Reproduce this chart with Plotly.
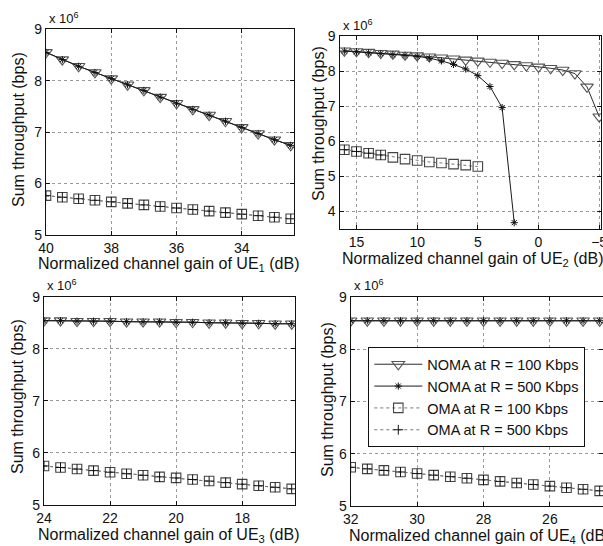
import plotly.graph_objects as go

# ---------------- data (throughput in units of 10^6 bps) ----------------
ue1_gain = [40, 39.5, 39, 38.5, 38, 37.5, 37, 36.5, 36, 35.5, 35, 34.5, 34, 33.5, 33, 32.5]
ue1_noma100 = [8.55, 8.41, 8.28, 8.16, 8.04, 7.92, 7.81, 7.68, 7.56, 7.44, 7.33, 7.21, 7.09, 6.97, 6.85, 6.74]
ue1_noma500 = [8.55, 8.41, 8.28, 8.16, 8.04, 7.92, 7.81, 7.68, 7.56, 7.44, 7.33, 7.21, 7.09, 6.97, 6.85, 6.74]
ue1_oma100 = [5.76, 5.73, 5.70, 5.67, 5.64, 5.61, 5.58, 5.55, 5.52, 5.49, 5.46, 5.43, 5.40, 5.37, 5.34, 5.31]
ue1_oma500 = [5.76, 5.73, 5.70, 5.67, 5.64, 5.61, 5.58, 5.55, 5.52, 5.49, 5.46, 5.43, 5.40, 5.37, 5.34, 5.31]

ue2_gain = [16, 15, 14, 13, 12, 11, 10, 9, 8, 7, 6, 5, 4, 3, 2, 1, 0, -1, -2, -3, -4, -5]
ue2_noma100 = [8.58, 8.56, 8.54, 8.51, 8.49, 8.46, 8.44, 8.41, 8.38, 8.35, 8.32, 8.29, 8.26, 8.23,
               8.19, 8.16, 8.12, 8.08, 8.03, 7.93, 7.55, 6.70]
ue2_gain_noma500 = [16, 15, 14, 13, 12, 11, 10, 9, 8, 7, 6, 5, 4, 3, 2]
ue2_noma500 = [8.57, 8.55, 8.52, 8.50, 8.47, 8.45, 8.42, 8.37, 8.29, 8.19, 8.06, 7.87, 7.56, 6.96, 3.68]
ue2_gain_oma100 = [16, 15, 14, 13, 12, 11, 10, 9, 8, 7, 6, 5]
ue2_oma100 = [5.76, 5.71, 5.66, 5.61, 5.54, 5.49, 5.45, 5.41, 5.38, 5.35, 5.32, 5.28]
ue2_gain_oma500 = [16, 15, 14, 13]
ue2_oma500 = [5.76, 5.71, 5.66, 5.61]

ue3_gain = [24, 23.5, 23, 22.5, 22, 21.5, 21, 20.5, 20, 19.5, 19, 18.5, 18, 17.5, 17, 16.5]
ue3_noma100 = [8.54, 8.54, 8.53, 8.53, 8.53, 8.52, 8.52, 8.52, 8.51, 8.51, 8.50, 8.50, 8.49, 8.49, 8.48, 8.48]
ue3_noma500 = [8.54, 8.54, 8.53, 8.53, 8.53, 8.52, 8.52, 8.52, 8.51, 8.51, 8.50, 8.50, 8.49, 8.49, 8.48, 8.48]
ue3_oma100 = [5.75, 5.72, 5.69, 5.66, 5.63, 5.60, 5.57, 5.54, 5.52, 5.49, 5.46, 5.43, 5.40, 5.37, 5.34, 5.31]
ue3_oma500 = [5.75, 5.72, 5.69, 5.66, 5.63, 5.60, 5.57, 5.54, 5.52, 5.49, 5.46, 5.43, 5.40, 5.37, 5.34, 5.31]

ue4_gain = [32, 31.5, 31, 30.5, 30, 29.5, 29, 28.5, 28, 27.5, 27, 26.5, 26, 25.5, 25, 24.5]
ue4_noma100 = [8.54, 8.54, 8.54, 8.54, 8.54, 8.54, 8.54, 8.54, 8.54, 8.54, 8.54, 8.54, 8.54, 8.54, 8.54, 8.54]
ue4_noma500 = [8.54, 8.54, 8.54, 8.54, 8.54, 8.54, 8.54, 8.54, 8.54, 8.54, 8.54, 8.54, 8.54, 8.54, 8.54, 8.54]
ue4_oma100 = [5.74, 5.71, 5.68, 5.65, 5.62, 5.59, 5.56, 5.53, 5.50, 5.47, 5.44, 5.41, 5.38, 5.35, 5.32, 5.29]
ue4_oma500 = [5.74, 5.71, 5.68, 5.65, 5.62, 5.59, 5.56, 5.53, 5.50, 5.47, 5.44, 5.41, 5.38, 5.35, 5.32, 5.29]

series_names = ["NOMA at R = 100 Kbps", "NOMA at R = 500 Kbps", "OMA at R = 100 Kbps", "OMA at R = 500 Kbps"]
x_titles = ["Normalized channel gain of UE<sub>1</sub> (dB)", "Normalized channel gain of UE<sub>2</sub> (dB)",
            "Normalized channel gain of UE<sub>3</sub> (dB)", "Normalized channel gain of UE<sub>4</sub> (dB)"]
y_title = "Sum throughput (bps)"

# ---------------- styling ----------------
FONT = "Liberation Sans, Arial, sans-serif"
W, H = 603, 546


def xd(a, b):
    return [a / W, min(b / W, 1.0)]


def yd(top, bottom):
    return [1 - bottom / H, 1 - top / H]


panels = [
    dict(xdom=xd(46, 294), ydom=yd(29.3, 234.7), xr=[40, 32.4], yr=[5, 9],
         xt=[40, 38, 36, 34], yt=[5, 6, 7, 8, 9],
         xtitle=(168, 264), ytitle=(18, 130), expo=(47, 18)),
    dict(xdom=xd(339.5, 601), ydom=yd(36, 229), xr=[16.4, -5.15], yr=[3.5, 9],
         xt=[15, 10, 5, 0, -5], yt=[4, 5, 6, 7, 8, 9],
         xtitle=(472, 259), ytitle=(319, 124), expo=(341, 25)),
    dict(xdom=xd(44, 295), ydom=yd(296.7, 505), xr=[24, 16.4], yr=[5, 9],
         xt=[24, 22, 20, 18], yt=[5, 6, 7, 8, 9],
         xtitle=(168, 535), ytitle=(17, 397), expo=(45, 285)),
    dict(xdom=xd(350.7, 603), ydom=yd(296.7, 506), xr=[32, 24.4], yr=[5, 9],
         xt=[32, 30, 28, 26], yt=[5, 6, 7, 8, 9],
         xtitle=(479, 536), ytitle=(327, 400), expo=(352, 285)),
]

data_sets = [
    [(ue1_gain, ue1_noma100), (ue1_gain, ue1_noma500), (ue1_gain, ue1_oma100), (ue1_gain, ue1_oma500)],
    [(ue2_gain, ue2_noma100), (ue2_gain_noma500, ue2_noma500), (ue2_gain_oma100, ue2_oma100),
     (ue2_gain_oma500, ue2_oma500)],
    [(ue3_gain, ue3_noma100), (ue3_gain, ue3_noma500), (ue3_gain, ue3_oma100), (ue3_gain, ue3_oma500)],
    [(ue4_gain, ue4_noma100), (ue4_gain, ue4_noma500), (ue4_gain, ue4_oma100), (ue4_gain, ue4_oma500)],
]

styles = [
    dict(mode="lines+markers", line=dict(color="#2b2b2b", width=1),
         marker=dict(symbol="triangle-down-open", size=11, color="#555555", line=dict(width=1.1, color="#555555"))),
    dict(mode="lines+markers", line=dict(color="#1a1a1a", width=1),
         marker=dict(symbol="asterisk-open", size=6, color="#111111", line=dict(width=1, color="#111111"))),
    dict(mode="lines+markers", line=dict(color="#777777", width=1, dash="dot"),
         marker=dict(symbol="square-open", size=9.5, color="#444444", line=dict(width=1.1, color="#444444"))),
    dict(mode="lines+markers", line=dict(color="#777777", width=1, dash="dot"),
         marker=dict(symbol="cross-thin-open", size=7, color="#111111", line=dict(width=1, color="#111111"))),
]

fig = go.Figure()
for i, (panel, dsets) in enumerate(zip(panels, data_sets)):
    suffix = "" if i == 0 else str(i + 1)
    for j, (xs, ys) in enumerate(dsets):
        fig.add_trace(go.Scatter(
            x=xs, y=ys, name=series_names[j], xaxis="x" + suffix, yaxis="y" + suffix,
            showlegend=(i == 3), cliponaxis=True, **styles[j]))

layout = dict(
    width=W, height=H, margin=dict(l=0, r=0, t=0, b=0, autoexpand=False),
    paper_bgcolor="white", plot_bgcolor="white",
    font=dict(family=FONT, size=14, color="#111111"),
    showlegend=True,
    legend=dict(x=368 / W, y=1 - 347 / H, xanchor="left", yanchor="top",
                bgcolor="white", bordercolor="#111111", borderwidth=1.3,
                font=dict(family=FONT, size=14.5, color="#111111"),
                itemwidth=48, tracegroupgap=0),
)

for i, p in enumerate(panels):
    suffix = "" if i == 0 else str(i + 1)
    common = dict(showline=True, linecolor="#111111", linewidth=1.2, mirror="ticks",
                  ticks="inside", ticklen=4, tickcolor="#111111",
                  showgrid=True, gridcolor="#9a9a9a", griddash="dot", gridwidth=1,
                  zeroline=False, automargin=False,
                  tickfont=dict(family=FONT, size=14, color="#111111"))
    layout["xaxis" + suffix] = dict(
        domain=p["xdom"], range=p["xr"], tickvals=p["xt"], anchor="y" + suffix,
        ticklabeloverflow="allow", **common)
    layout["yaxis" + suffix] = dict(
        domain=p["ydom"], range=p["yr"], tickvals=p["yt"], anchor="x" + suffix,
        **common)

fig.update_layout(**layout)

for p, xt in zip(panels, x_titles):
    tx, ty = p["xtitle"]
    fig.add_annotation(x=tx / W, y=1 - ty / H, xref="paper", yref="paper", text=xt,
                       showarrow=False, xanchor="center", yanchor="middle",
                       font=dict(family=FONT, size=16, color="#111111"))
    yx, yy = p["ytitle"]
    fig.add_annotation(x=yx / W, y=1 - yy / H, xref="paper", yref="paper", text=y_title,
                       textangle=-90, showarrow=False, xanchor="center", yanchor="middle",
                       font=dict(family=FONT, size=16, color="#111111"))
    ex, ey = p["expo"]
    fig.add_annotation(x=ex / W, y=1 - ey / H, xref="paper", yref="paper",
                       text="x 10<sup>6</sup>", showarrow=False, xanchor="left", yanchor="middle",
                       font=dict(family=FONT, size=13, color="#111111"))

fig.write_html("out.html", config={"displayModeBar": False},
               post_script="document.body.style.margin='0';document.body.style.overflow='hidden';")
